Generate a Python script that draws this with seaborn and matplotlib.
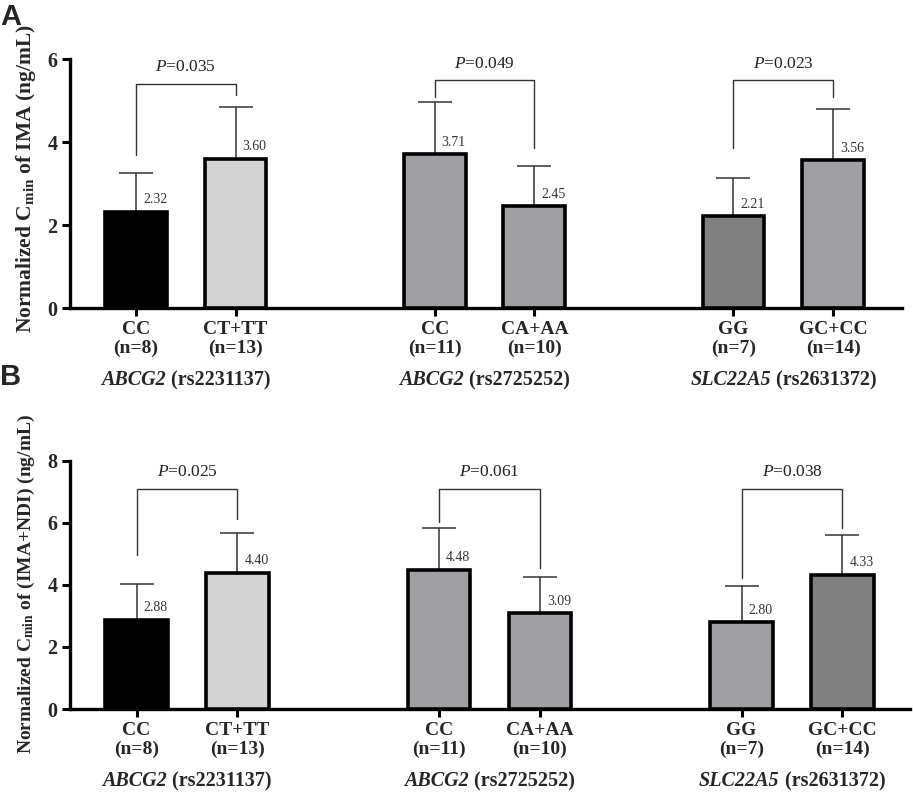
import matplotlib
matplotlib.use("Agg")
import matplotlib.pyplot as plt
import matplotlib.transforms as mtransforms
import seaborn as sns
import pandas as pd

# ---------------- data ----------------
positions = [0, 1, 3, 4, 6, 7]
genotypes = ["CC", "CT+TT", "CC", "CA+AA", "GG", "GC+CC"]
n_counts = [8, 13, 11, 10, 7, 14]
genes = ["ABCG2", "ABCG2", "SLC22A5"]
snps = ["rs2231137", "rs2725252", "rs2631372"]

means_A = [2.32, 3.60, 3.71, 2.45, 2.21, 3.56]
sd_A = [0.93, 1.24, 1.26, 0.98, 0.93, 1.23]
pvals_A = ["0.035", "0.049", "0.023"]

means_B = [2.88, 4.40, 4.48, 3.09, 2.80, 4.33]
sd_B = [1.16, 1.29, 1.36, 1.18, 1.18, 1.28]
pvals_B = ["0.025", "0.061", "0.038"]

colors_A = ["#000000", "#d3d3d3", "#a0a0a4", "#a0a0a4", "#808080", "#a0a0a4"]
colors_B = ["#000000", "#d3d3d3", "#a0a0a4", "#a0a0a4", "#a0a0a4", "#808080"]

# bracket geometry (top, left leg end, right leg end) per group
brackets_A = [(5.41, 3.69, 5.13), (5.49, 5.09, 3.85), (5.49, 3.85, 5.09)]
brackets_B = [(7.09, 4.97, 6.13), (7.09, 6.04, 4.54), (7.09, 4.22, 5.83)]

# ---------------- style ----------------
sns.set_style("ticks")
plt.rcParams["font.family"] = ["Liberation Serif", "DejaVu Serif"]
plt.rcParams["mathtext.fontset"] = "custom"
plt.rcParams["mathtext.rm"] = "Liberation Serif:bold"
plt.rcParams["mathtext.bf"] = "Liberation Serif:bold"
plt.rcParams["mathtext.it"] = "Liberation Serif:bold:italic"
plt.rcParams["mathtext.sf"] = "Liberation Serif:italic"

fig = plt.figure(figsize=(9.13, 7.98), dpi=100)
axA = fig.add_axes([0.0767, 0.614, 0.911, 0.312])
axB = fig.add_axes([0.0767, 0.1115, 0.920, 0.311])
renderer = fig.canvas.get_renderer()


def draw_panel(ax, means, sds, colors, pvals, brackets, ymax, ylabel, xlim,
               ylabel_size, ylabel_y):
    keys = [f"b{i}" for i in range(len(means))]
    df = pd.DataFrame({"pos": positions, "val": means, "key": keys})
    sns.barplot(data=df, x="pos", y="val", hue="key",
                palette=dict(zip(keys, colors)), native_scale=True,
                width=0.62, dodge=False, errorbar=None, legend=False,
                edgecolor="black", linewidth=2.6, ax=ax, zorder=3)
    ax.errorbar(positions, means, yerr=[[0] * len(sds), sds], fmt="none",
                ecolor="#333333", elinewidth=1.1, capsize=12, capthick=1.1,
                zorder=2)
    for x, v in zip(positions, means):
        ax.annotate(f"{v:.2f}", (x + 0.07, v), xytext=(0, 4),
                    textcoords="offset points", ha="left", va="bottom",
                    fontsize=10, color="#333333")
    for g, (top, l_end, r_end) in enumerate(brackets):
        xl, xr = positions[2 * g], positions[2 * g + 1]
        ax.plot([xl, xl, xr, xr], [l_end, top, top, r_end], color="#333333",
                lw=1.0, zorder=2, clip_on=False)
        ax.text((xl + xr) / 2, top + ymax * 0.035, r"$\mathsf{P}$=" + pvals[g],
                ha="center", va="bottom", fontsize=12.5, color="#222222")
    ax.set_xlim(*xlim)
    ax.set_ylim(0, ymax)
    ax.set_yticks(range(0, ymax + 1, 2))
    ax.set_xticks(positions)
    ax.set_xticklabels([f"{g}\n(n={n})" for g, n in zip(genotypes, n_counts)],
                       fontsize=14, fontweight="bold", linespacing=1.15)
    for lab in ax.get_yticklabels():
        lab.set_fontsize(14.5)
        lab.set_fontweight("bold")
    ax.tick_params(axis="both", width=2.2, length=6, pad=3, color="black")
    for s in ["left", "bottom"]:
        ax.spines[s].set_linewidth(2.4)
        ax.spines[s].set_color("black")
    sns.despine(ax=ax)
    ax.set_xlabel("")
    ax.set_ylabel(ylabel, fontsize=ylabel_size, fontweight="bold")
    ax.yaxis.set_label_coords(-0.039, ylabel_y)
    trans = mtransforms.blended_transform_factory(ax.transData, ax.transAxes)
    for g in range(3):
        xc = (positions[2 * g] + positions[2 * g + 1]) / 2
        t1 = ax.text(xc, -0.29, genes[g], transform=trans, ha="left",
                     va="center", fontsize=14.5, fontweight="bold",
                     fontstyle="italic")
        t2 = ax.text(xc, -0.29, " (" + snps[g] + ")", transform=trans,
                     ha="left", va="center", fontsize=14.5, fontweight="bold")
        w1 = t1.get_window_extent(renderer).width
        w2 = t2.get_window_extent(renderer).width
        start = -(w1 + w2) / 2.0
        t1.set_transform(trans + mtransforms.ScaledTranslation(
            start / fig.dpi, 0, fig.dpi_scale_trans))
        t2.set_transform(trans + mtransforms.ScaledTranslation(
            (start + w1) / fig.dpi, 0, fig.dpi_scale_trans))


draw_panel(axA, means_A, sd_A, colors_A, pvals_A, brackets_A, 6,
           r"Normalized C$_{\mathrm{min}}$ of IMA (ng/mL)", (-0.663, 7.69),
           15.5, 0.52)
draw_panel(axB, means_B, sd_B, colors_B, pvals_B, brackets_B, 8,
           r"Normalized C$_{\mathrm{min}}$ of (IMA+NDI) (ng/mL)", (-0.66, 7.67),
           14, 0.505)

fig.text(0.0, 0.996, "A", fontsize=21, fontweight="bold",
         family=["Liberation Sans", "DejaVu Sans"], ha="left", va="top")
fig.text(0.0, 0.545, "B", fontsize=21, fontweight="bold",
         family=["Liberation Sans", "DejaVu Sans"], ha="left", va="top")

fig.savefig("out.png", dpi=100)
